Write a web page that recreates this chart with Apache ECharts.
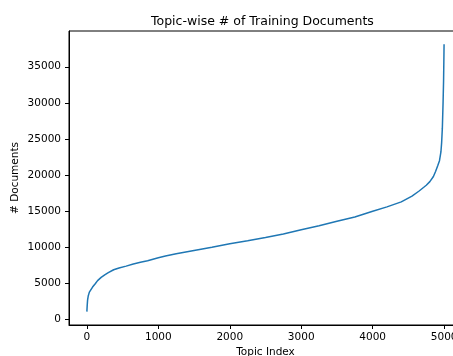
<!DOCTYPE html>
<html>
<head>
<meta charset="utf-8">
<script src="https://cdn.jsdelivr.net/npm/echarts@6/dist/echarts.min.js"></script>
<style>html,body{margin:0;padding:0;background:#fff}#c{width:453px;height:356px}</style>
</head>
<body>
<div id="c"></div>
<script>
const titleText = "Topic-wise # of Training Documents";
const xLabel = "Topic Index";
const yLabel = "# Documents";
const xTicks = [0, 1000, 2000, 3000, 4000, 5000];
const yTicks = [0, 5000, 10000, 15000, 20000, 25000, 30000, 35000];
const topicIndex = [0,5,10,20,35,50,80,120,150,200,250,300,375,450,550,650,750,850,1000,1100,1250,1500,1750,2000,2250,2500,2750,3000,3250,3500,3750,4000,4200,4400,4550,4650,4750,4800,4850,4880,4910,4935,4955,4965,4975,4985,4992,4997,4999];
const documents = [1100,2000,2700,3300,3800,4050,4500,5000,5400,5850,6200,6500,6900,7150,7400,7700,7950,8150,8550,8800,9100,9550,10000,10500,10900,11350,11850,12450,13000,13600,14200,15000,15600,16300,17100,17800,18600,19100,19800,20500,21300,22000,23200,24500,26500,30000,33000,36500,38100];

const font = "DejaVu Sans";
const chart = echarts.init(document.getElementById('c'), null, {renderer: 'canvas'});
chart.setOption({
  animation: false,
  backgroundColor: '#fff',
  title: {
    text: titleText, left: 146, top: 10,
    textStyle: {fontFamily: font, fontSize: 12.5, fontWeight: 'normal', color: '#000'}
  },
  grid: {left: 69, top: 31, width: 393, height: 294, outerBoundsMode: 'none', containLabel: false,
         show: true, borderColor: '#000', borderWidth: 1, backgroundColor: 'transparent'},
  xAxis: {
    type: 'value', min: -250, max: 5250,
    name: xLabel, nameLocation: 'middle', nameGap: 22, nameMoveOverlap: false,
    nameTextStyle: {fontFamily: font, fontSize: 10.5, color: '#000'},
    axisLine: {show: true, onZero: false, lineStyle: {color: '#000', width: 1}},
    axisTick: {show: true, length: 4, customValues: xTicks, lineStyle: {color: '#000'}},
    axisLabel: {customValues: xTicks, margin: 7, fontFamily: font, fontSize: 10.5, color: '#000', formatter: v => String(v)},
    splitLine: {show: false}
  },
  yAxis: {
    type: 'value', min: -750, max: 39950,
    name: yLabel, nameLocation: 'middle', nameGap: 48, nameMoveOverlap: false,
    nameTextStyle: {fontFamily: font, fontSize: 10.5, color: '#000'},
    axisLine: {show: true, onZero: false, lineStyle: {color: '#000', width: 1}},
    axisTick: {show: true, length: 4, customValues: yTicks, lineStyle: {color: '#000'}},
    axisLabel: {customValues: yTicks, margin: 8, fontFamily: font, fontSize: 10.5, color: '#000', formatter: v => String(v)},
    splitLine: {show: false}
  },
  series: [{
    type: 'line',
    data: topicIndex.map((x, i) => [x, documents[i]]),
    showSymbol: false,
    smooth: false,
    lineStyle: {color: '#1f77b4', width: 1.5},
    itemStyle: {color: '#1f77b4'}
  }]
});
</script>
</body>
</html>
